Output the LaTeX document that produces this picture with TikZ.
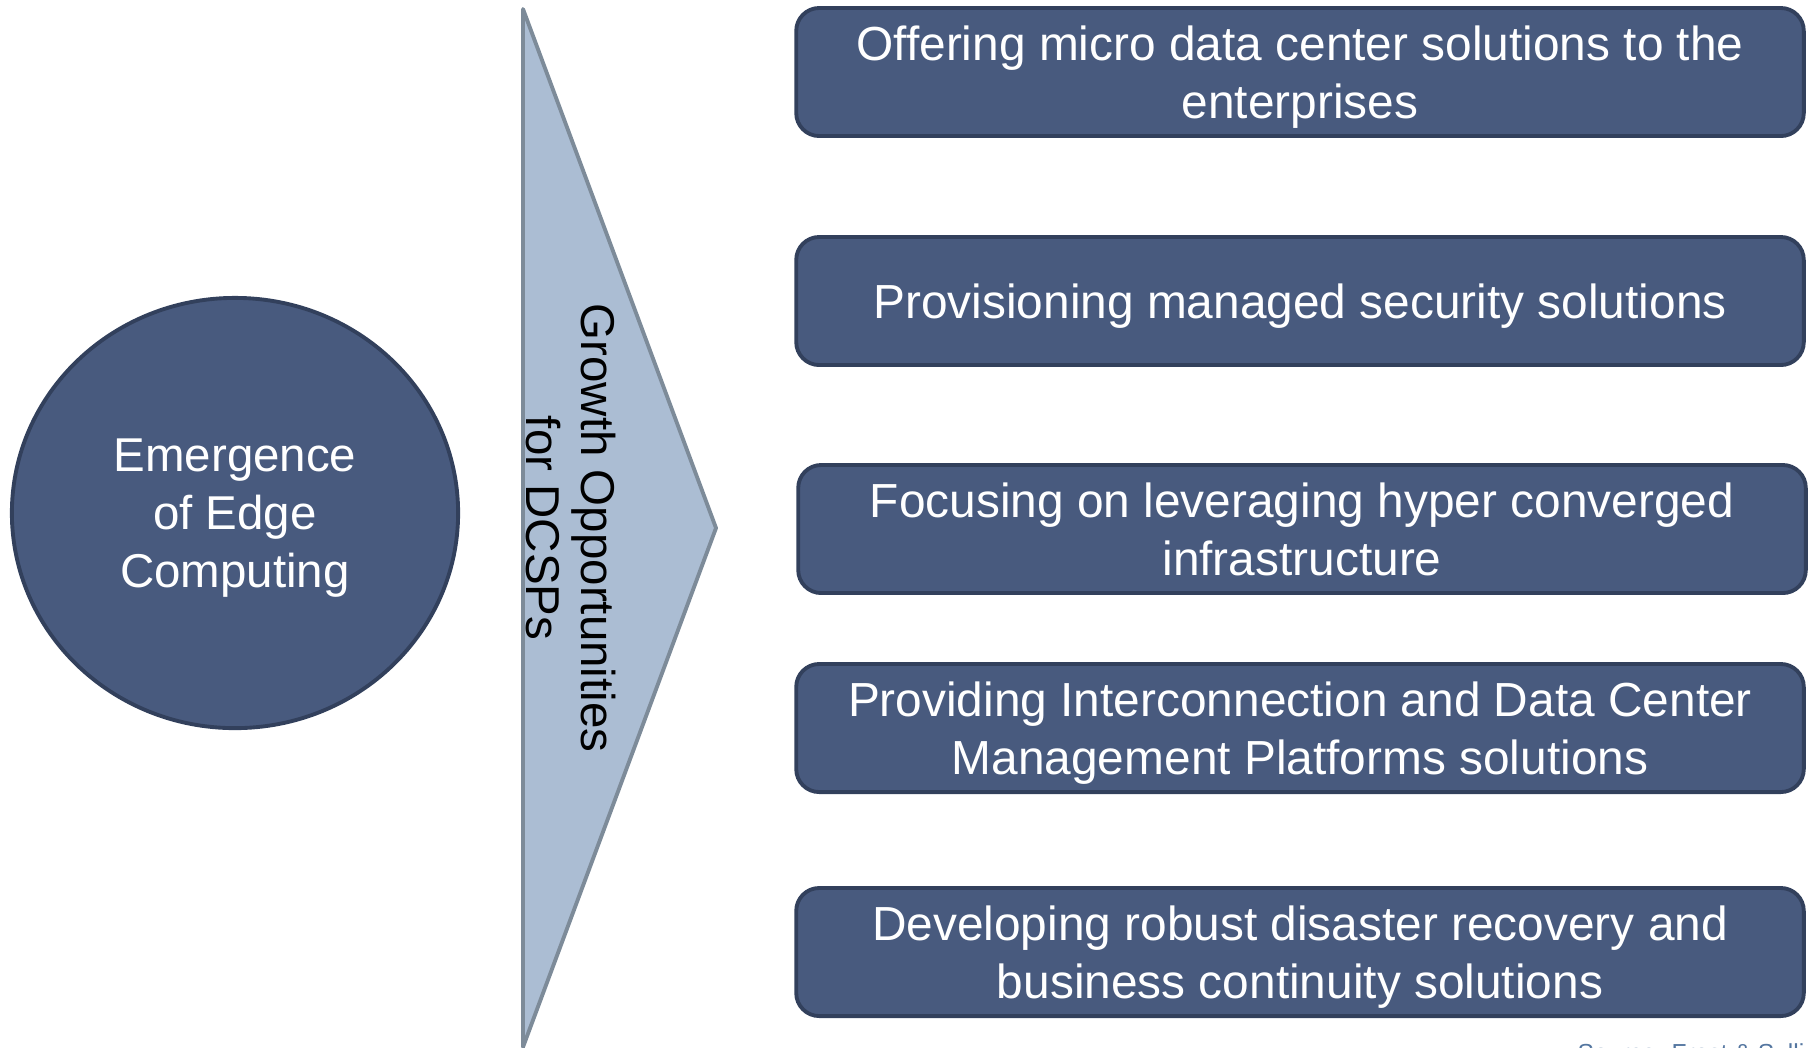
\documentclass[tikz,border=0pt]{standalone}
\usepackage{fontspec}
\setmainfont{Liberation Sans}
\usetikzlibrary{shapes.geometric}

\definecolor{boxfill}{RGB}{72,90,126}
\definecolor{boxline}{RGB}{50,64,92}
\definecolor{arrowfill}{RGB}{171,189,211}
\definecolor{arrowline}{RGB}{125,139,153}
\definecolor{sourcetext}{RGB}{84,118,160}

\tikzset{
  growthbox/.style={draw=boxline, fill=boxfill, line width=1.1pt, rounded corners=0.23cm,
    minimum width=10.07cm, minimum height=1.28cm, inner sep=0pt, text=white, text depth=0pt,
    align=center, font=\fontsize{13.6}{16.5}\selectfont},
  edgecircle/.style={ellipse, draw=boxline, fill=boxfill, line width=1.1pt,
    minimum width=4.46cm, minimum height=4.3cm, inner sep=0pt, text=white, text depth=0pt,
    align=center, font=\fontsize{13.5}{16.5}\selectfont}
}

\begin{document}
\begin{tikzpicture}[x=0.01cm, y=-0.01cm]

  \useasboundingbox (0,0) rectangle (1810,1047);

  \node[edgecircle] (edge) at (235,513) {Emergence\\of Edge\\Computing};

  \coordinate (top) at (523,9);
  \coordinate (tip) at (716,528);
  \coordinate (bottom) at (523,1047);
  \draw[draw=arrowline, fill=arrowfill, line width=1.1pt, line join=round]
    (top) -- (tip) -- (bottom) -- cycle;
  \node[rotate=-90, align=center, font=\fontsize{13.5}{15.5}\selectfont] (growth)
    at (571,528) {Growth Opportunities\\for DCSPs};

  \node[growthbox] (micro) at (1300,72) {Offering micro data center solutions to the\\enterprises};
  \node[growthbox] (security) at (1300,301) {Provisioning managed security solutions};
  \node[growthbox] (hci) at (1302,529) {Focusing on leveraging hyper converged\\infrastructure};
  \node[growthbox] (interconnect) at (1300,728) {Providing Interconnection and Data Center\\Management Platforms solutions};
  \node[growthbox] (recovery) at (1300,952) {Developing robust disaster recovery and\\business continuity solutions};

  \node[anchor=base west, inner sep=0pt, text=sourcetext, font=\fontsize{7}{8}\selectfont]
    (source) at (1577,1061) {Source: Frost \& Sullivan};

\end{tikzpicture}
\end{document}
